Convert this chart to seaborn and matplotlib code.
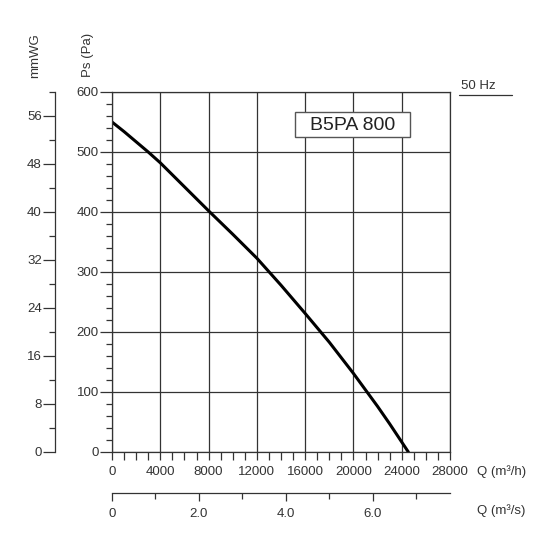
import numpy as np
import pandas as pd
import seaborn as sns
import matplotlib.pyplot as plt
from matplotlib.patches import Rectangle
from matplotlib.ticker import MultipleLocator, FixedLocator

# curve (Q in m3/h, Ps in Pa)
flow_m3h = [0, 1000, 2000, 3000, 4000, 6000, 8000, 10000, 12000, 14000, 16000, 18000, 20000, 22000, 23000, 24550]
pressure_pa = [550, 534, 517, 500, 482, 442, 402, 363, 323, 278, 231, 183, 131, 76, 47, 0]

q_ticks = [0, 4000, 8000, 12000, 16000, 20000, 24000, 28000]
ps_ticks = [0, 100, 200, 300, 400, 500, 600]
mmwg_ticks = [0, 8, 16, 24, 32, 40, 48, 56]
qs_ticks = [0, 2.0, 4.0, 6.0]
qs_labels = ["0", "2.0", "4.0", "6.0"]

model = "B5PA 800"
freq = "50 Hz"

W = H = 550.0
INK = "#333333"
FS = 9.5

sns.set_theme(style="white")
plt.rcParams["font.family"] = ["Liberation Sans", "DejaVu Sans"]
plt.rcParams["text.color"] = INK
plt.rcParams["axes.edgecolor"] = INK
plt.rcParams["xtick.color"] = INK
plt.rcParams["ytick.color"] = INK
plt.rcParams["xtick.labelcolor"] = INK
plt.rcParams["ytick.labelcolor"] = INK

fig = plt.figure(figsize=(5.5, 5.5), dpi=100)


def fx(px):
    return px / W


def fy(py):
    return 1 - py / H


# main axes
L, R, T, B = 112, 450, 92, 452
ax = fig.add_axes([fx(L), fy(B), fx(R - L), (B - T) / H])
df = pd.DataFrame({"q": flow_m3h, "ps": pressure_pa})
sns.lineplot(data=df, x="q", y="ps", ax=ax, color="black", linewidth=2.2)
ax.set_xlim(0, 28000)
ax.set_ylim(0, 600)
ax.set_xticks(q_ticks)
ax.set_yticks(ps_ticks)
ax.xaxis.set_minor_locator(MultipleLocator(1000))
ax.yaxis.set_minor_locator(MultipleLocator(20))
ax.tick_params(axis="x", which="both", direction="out", length=6, width=0.9, labelsize=FS, pad=4)
ax.tick_params(axis="y", which="major", direction="out", length=9, width=0.9, labelsize=FS, pad=0.5)
ax.tick_params(axis="y", which="minor", direction="out", length=4.5, width=0.9)
ax.tick_params(left=True, bottom=True, which="both")
ax.set_xlabel("")
ax.set_ylabel("")
ax.grid(True, which="major", color=INK, linewidth=0.9)
for s in ax.spines.values():
    s.set_color(INK)
    s.set_linewidth(0.9)

# mmWG axis
ax2 = fig.add_axes([fx(55), fy(B), 0.001, (B - T) / H])
ax2.set_ylim(0, 60)
ax2.set_yticks(mmwg_ticks)
ax2.yaxis.set_minor_locator(MultipleLocator(4))
ax2.set_xticks([])
ax2.tick_params(axis="y", which="major", direction="out", length=9, width=0.9, labelsize=FS, pad=0.5)
ax2.tick_params(axis="y", which="minor", direction="out", length=4.5, width=0.9)
ax2.tick_params(left=True, which="both")
for k in ["top", "right", "bottom"]:
    ax2.spines[k].set_visible(False)
ax2.spines["left"].set_linewidth(0.9)
ax2.patch.set_visible(False)

# m3/s axis
ax3 = fig.add_axes([fx(L), fy(493), fx(R - L), 0.001])
ax3.set_xlim(0, 28000 / 3600)
ax3.set_xticks(qs_ticks)
ax3.set_xticklabels(qs_labels)
ax3.xaxis.set_minor_locator(FixedLocator([1, 3, 5, 7]))
ax3.set_yticks([])
ax3.tick_params(axis="x", which="major", direction="out", length=6, width=0.9, labelsize=FS, pad=5)
ax3.tick_params(axis="x", which="minor", direction="out", length=4, width=0.9)
ax3.tick_params(bottom=True, which="both")
for k in ["top", "right", "left"]:
    ax3.spines[k].set_visible(False)
ax3.spines["bottom"].set_linewidth(0.9)
ax3.patch.set_visible(False)

# labels
fig.text(fx(35), fy(56), "mmWG", rotation=90, ha="center", va="center", fontsize=FS)
fig.text(fx(88), fy(55), "Ps (Pa)", rotation=90, ha="center", va="center", fontsize=FS)
fig.text(fx(477), fy(472), "Q (m³/h)", ha="left", va="center", fontsize=FS)
fig.text(fx(477), fy(511), "Q (m³/s)", ha="left", va="center", fontsize=FS)
fig.text(fx(461), fy(86), freq, ha="left", va="center", fontsize=FS)
fig.add_artist(plt.Line2D([fx(459), fx(512)], [fy(95), fy(95)], color=INK, linewidth=0.9))

# model box
fig.add_artist(Rectangle((fx(295), fy(137)), fx(115), 25 / H, facecolor="white",
                         edgecolor="#555555", linewidth=1.0, zorder=5))
fig.text(fx(352.5), fy(125), model, ha="center", va="center", fontsize=14, color="#222222", zorder=6)

fig.savefig("out.png", dpi=100)
